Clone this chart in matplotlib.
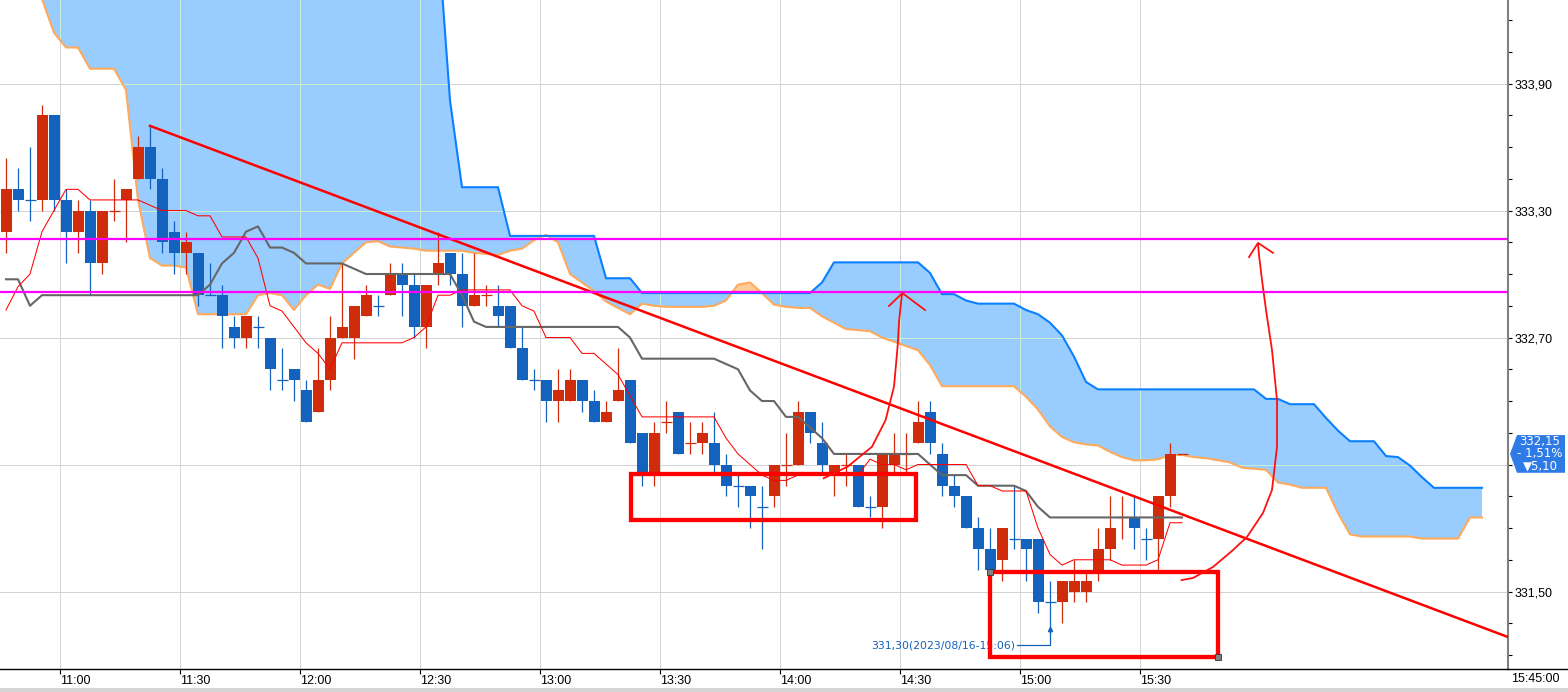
import numpy as np
import matplotlib
matplotlib.use("Agg")
import matplotlib.pyplot as plt
import matplotlib.transforms as mtransforms
from matplotlib.patches import Rectangle, Polygon
from matplotlib.lines import Line2D
from matplotlib.path import Path

plt.rcParams['font.family'] = ['Liberation Sans Narrow', 'Liberation Sans', 'DejaVu Sans']

# KOSPI200 futures, 3 minute bars, 2023/08/16
trade_date = "2023/08/16"
first_bar = 10 * 60 + 45      # 10:45 in minutes
bar_len = 3

opens = [333.20, 333.40, 333.35, 333.35, 333.75, 333.35, 333.20, 333.30, 333.05, 333.30,
         333.35, 333.45, 333.60, 333.45, 333.20, 333.10, 333.10, 332.90, 332.90, 332.75,
         332.70, 332.75, 332.70, 332.50, 332.55, 332.45, 332.35, 332.50, 332.70, 332.70,
         332.80, 332.85, 332.90, 333.00, 332.95, 332.75, 333.00, 333.10, 333.00, 332.85,
         332.90, 332.85, 332.85, 332.65, 332.50, 332.50, 332.40, 332.40, 332.50, 332.40,
         332.30, 332.40, 332.50, 332.25, 332.05, 332.30, 332.35, 332.20, 332.20, 332.20,
         332.10, 332.00, 332.00, 331.90, 331.95, 332.10, 332.10, 332.35, 332.20, 332.05,
         332.10, 332.10, 331.90, 331.90, 332.10, 332.15, 332.20, 332.35, 332.15, 332.00,
         331.95, 331.80, 331.70, 331.65, 331.75, 331.75, 331.75, 331.45, 331.45, 331.50,
         331.50, 331.60, 331.70, 331.85, 331.85, 331.75, 331.75, 331.95]
highs = [333.55, 333.50, 333.60, 333.80, 333.75, 333.40, 333.35, 333.35, 333.30, 333.45,
         333.40, 333.65, 333.70, 333.50, 333.25, 333.20, 333.10, 333.05, 332.95, 332.80,
         332.80, 332.80, 332.70, 332.65, 332.55, 332.50, 332.65, 332.80, 333.05, 332.85,
         332.95, 332.90, 333.05, 333.05, 333.00, 332.95, 333.20, 333.10, 333.10, 333.10,
         332.95, 332.95, 332.85, 332.75, 332.55, 332.50, 332.55, 332.55, 332.50, 332.45,
         332.40, 332.65, 332.50, 332.25, 332.30, 332.40, 332.35, 332.30, 332.30, 332.35,
         332.15, 332.05, 332.00, 332.00, 332.10, 332.25, 332.40, 332.35, 332.30, 332.10,
         332.15, 332.10, 331.95, 332.15, 332.25, 332.25, 332.40, 332.40, 332.20, 332.05,
         331.95, 331.85, 331.80, 331.80, 332.00, 331.75, 331.75, 331.55, 331.55, 331.65,
         331.60, 331.80, 331.95, 331.95, 331.95, 331.80, 331.95, 332.20]
lows = [333.10, 333.30, 333.25, 333.30, 333.30, 333.05, 333.10, 332.90, 333.00, 333.25,
        333.15, 333.45, 333.40, 333.10, 333.00, 333.00, 332.85, 332.90, 332.65, 332.65,
        332.65, 332.65, 332.45, 332.45, 332.40, 332.30, 332.35, 332.45, 332.70, 332.60,
        332.80, 332.80, 332.90, 332.80, 332.70, 332.65, 332.95, 332.95, 332.75, 332.85,
        332.85, 332.75, 332.65, 332.50, 332.45, 332.30, 332.30, 332.40, 332.35, 332.30,
        332.30, 332.40, 332.20, 332.00, 332.00, 332.25, 332.15, 332.15, 332.15, 332.05,
        331.95, 331.90, 331.80, 331.70, 331.90, 332.00, 332.10, 332.20, 332.05, 331.95,
        332.00, 331.90, 331.85, 331.80, 332.05, 332.05, 332.20, 332.15, 331.95, 331.90,
        331.80, 331.60, 331.60, 331.55, 331.70, 331.55, 331.40, 331.30, 331.35, 331.45,
        331.45, 331.55, 331.65, 331.75, 331.70, 331.65, 331.60, 331.90]
closes = [333.40, 333.35, 333.35, 333.75, 333.35, 333.20, 333.30, 333.05, 333.30, 333.30,
          333.40, 333.60, 333.45, 333.15, 333.10, 333.15, 332.90, 332.90, 332.80, 332.70,
          332.80, 332.75, 332.55, 332.50, 332.50, 332.30, 332.50, 332.70, 332.75, 332.85,
          332.90, 332.85, 333.00, 332.95, 332.75, 332.95, 333.05, 333.00, 332.85, 332.90,
          332.90, 332.80, 332.65, 332.50, 332.50, 332.40, 332.45, 332.50, 332.40, 332.30,
          332.35, 332.45, 332.20, 332.05, 332.25, 332.30, 332.15, 332.20, 332.25, 332.10,
          332.00, 332.00, 331.95, 331.90, 332.10, 332.10, 332.35, 332.25, 332.10, 332.10,
          332.10, 331.90, 331.90, 332.15, 332.15, 332.15, 332.30, 332.20, 332.00, 331.95,
          331.80, 331.70, 331.60, 331.80, 331.75, 331.70, 331.45, 331.45, 331.55, 331.55,
          331.55, 331.70, 331.80, 331.85, 331.80, 331.75, 331.95, 332.15]

# conversion line (thin red) and base line (gray)
tenkan = [332.83, 332.94, 333.00, 333.20, 333.30, 333.40, 333.40, 333.35, 333.35, 333.35,
          333.35, 333.35, 333.325, 333.30, 333.30, 333.30, 333.275, 333.275, 333.175, 333.175,
          333.175, 333.075, 332.85, 332.825, 332.75, 332.675, 332.625, 332.55, 332.675, 332.675,
          332.675, 332.675, 332.675, 332.675, 332.70, 332.75, 332.90, 332.90, 332.925, 332.925,
          332.925, 332.925, 332.925, 332.85, 332.825, 332.70, 332.70, 332.70, 332.625, 332.625,
          332.575, 332.525, 332.425, 332.325, 332.325, 332.325, 332.325, 332.325, 332.325, 332.325,
          332.225, 332.15, 332.10, 332.05, 332.025, 332.025, 332.05, 332.05, 332.05, 332.05,
          332.05, 332.05, 332.125, 332.10, 332.10, 332.075, 332.10, 332.10, 332.10, 332.10,
          332.10, 332.00, 332.00, 331.975, 331.975, 331.975, 331.80, 331.675, 331.625, 331.65,
          331.65, 331.65, 331.65, 331.625, 331.625, 331.625, 331.65, 331.825, 331.825]
kijun = [332.975, 332.975, 332.85, 332.90, 332.90, 332.90, 332.90, 332.90, 332.90, 332.90,
         332.90, 332.90, 332.90, 332.90, 332.90, 332.90, 332.90, 332.95, 333.05, 333.10,
         333.20, 333.225, 333.125, 333.125, 333.10, 333.05, 333.05, 333.05, 333.05, 333.025,
         333.00, 333.00, 333.00, 333.00, 333.00, 333.00, 333.00, 333.00, 332.90, 332.775,
         332.75, 332.75, 332.75, 332.75, 332.75, 332.75, 332.75, 332.75, 332.75, 332.75,
         332.75, 332.75, 332.70, 332.60, 332.60, 332.60, 332.60, 332.60, 332.60, 332.60,
         332.575, 332.55, 332.45, 332.40, 332.40, 332.325, 332.325, 332.275, 332.225, 332.15,
         332.15, 332.15, 332.15, 332.15, 332.15, 332.15, 332.15, 332.10, 332.05, 332.05,
         332.05, 332.00, 332.00, 332.00, 332.00, 331.975, 331.90, 331.85, 331.85, 331.85,
         331.85, 331.85, 331.85, 331.85, 331.85, 331.85, 331.85, 331.85, 331.85]

# leading spans (cloud), shifted ahead of the last bar
span_a = [334.65, 334.50, 334.40, 334.30, 334.14, 334.07, 334.07, 333.97, 333.97, 333.97,
          333.87, 333.35, 333.075, 333.04, 333.04, 333.03, 332.81, 332.81, 332.81, 332.81,
          332.81, 332.90, 332.91, 332.90, 332.83, 332.90, 332.95, 332.93, 333.05, 333.10,
          333.15, 333.155, 333.13, 333.125, 333.12, 333.11, 333.11, 333.11, 333.11, 333.10,
          333.095, 333.09, 333.11, 333.12, 333.16, 333.185, 333.15, 333.00, 332.96, 332.92,
          332.87, 332.84, 332.81, 332.86, 332.85, 332.845, 332.845, 332.845, 332.845, 332.85,
          332.875, 332.95, 332.96, 332.91, 332.855, 332.845, 332.84, 332.84, 332.80, 332.77,
          332.74, 332.735, 332.73, 332.70, 332.68, 332.66, 332.64, 332.57, 332.47, 332.47,
          332.47, 332.47, 332.47, 332.47, 332.47, 332.42, 332.36, 332.28, 332.23, 332.205,
          332.195, 332.19, 332.16, 332.135, 332.12, 332.12, 332.125, 332.145, 332.145, 332.135,
          332.13, 332.12, 332.11, 332.085, 332.08, 332.075, 332.015, 332.005, 331.99, 331.99,
          331.99, 331.87, 331.77, 331.76, 331.76, 331.76, 331.76, 331.76, 331.75, 331.75,
          331.75, 331.75, 331.85, 331.85]
span_b = [334.60] * 37 + [
          333.82, 333.41, 333.41, 333.41, 333.41, 333.18, 333.18, 333.18, 333.18, 333.18,
          333.18, 333.18, 333.18, 332.98, 332.98, 332.98, 332.91, 332.91, 332.91, 332.91,
          332.91, 332.91, 332.91, 332.91, 332.91, 332.91, 332.91, 332.91, 332.91, 332.91,
          332.91, 332.96, 333.055, 333.055, 333.055, 333.055, 333.055, 333.055, 333.055, 333.055,
          333.005, 332.905, 332.905, 332.875, 332.86, 332.86, 332.86, 332.86, 332.83, 332.81,
          332.77, 332.71, 332.61, 332.49, 332.455, 332.455, 332.455, 332.455, 332.455, 332.455,
          332.455, 332.455, 332.455, 332.455, 332.455, 332.455, 332.455, 332.455, 332.41, 332.41,
          332.385, 332.385, 332.385, 332.32, 332.26, 332.21, 332.21, 332.21, 332.14, 332.135,
          332.095, 332.04, 331.99, 331.99, 331.99, 331.99, 331.99]

# horizontal levels and downward trend line
levels = [333.165, 332.915]
trend_x = [682.5, 1022.0]
trend_y = [333.70, 331.285]

# hand-drawn boxes (t0, p0, t1, p1) and arrows (minutes, price)
box1 = (802.75, 331.84, 874.0, 332.053)
box2 = (892.6, 331.19, 949.4, 331.59)
arrow1_t = [850.9, 856.9, 863.0, 866.4, 868.5, 869.4, 869.8, 870.5]
arrow1_p = [332.035, 332.09, 332.184, 332.31, 332.468, 332.657, 332.783, 332.909]
head1_t = [867.25, 870.6, 876.25]
head1_p = [332.849, 332.91, 332.83]
arrow2_t = [940.4, 943.25, 948.25, 953.25, 956.75, 960.75, 963.0, 964.25, 964.25, 963.0,
            961.5, 960.5, 959.75, 959.5]
arrow2_p = [331.554, 331.564, 331.616, 331.696, 331.758, 331.871, 331.98, 332.183, 332.405,
            332.641, 332.83, 332.972, 333.09, 333.142]
head2_t = [957.25, 959.5, 963.25]
head2_p = [333.08, 333.147, 333.10]

change = -5.10
change_pct = -1.51

time_ticks = ["11:00", "11:30", "12:00", "12:30", "13:00", "13:30", "14:00", "14:30", "15:00", "15:30"]
price_ticks = [331.50, 332.10, 332.70, 333.30, 333.90]


def hm(s):
    h, m = s.split(":")
    return int(h) * 60 + int(m)


def comma(v):
    return f"{v:.2f}".replace(".", ",")


x_bar = first_bar + bar_len * np.arange(len(closes)) + bar_len / 2
x_line = first_bar + bar_len * np.arange(len(tenkan)) + bar_len / 2
x_span = first_bar + bar_len * np.arange(len(span_a)) + bar_len / 2

fig = plt.figure(figsize=(15.68, 6.92), dpi=100)
ax = fig.add_axes([0, 23 / 692, 1508 / 1568, 669 / 692])
ax.set_xlim(645, 1022)
ax.set_ylim(331.134, 334.2945)

last = closes[-1]

# cloud
sa = np.array(span_a)
sb = np.array(span_b)
cloud = ax.fill_between(x_span, sa, sb, where=sa <= sb, interpolate=True, color="#99CCFF",
                        lw=0, zorder=1)
ax.fill_between(x_span, sa, sb, where=sa > sb, interpolate=True, color="#FFCB96", lw=0, zorder=1)

# pale grid lines showing through the cloud
cloud_path = Path.make_compound_path(*cloud.get_paths())
for t in time_ticks:
    ln = ax.axvline(hm(t), color="#C8EED6", lw=0.75, zorder=1.2)
    ln.set_clip_path(cloud_path, ax.transData)
for p in price_ticks:
    ln = ax.axhline(p, color="#C8EED6", lw=0.75, zorder=1.2)
    ln.set_clip_path(cloud_path, ax.transData)

ax.plot(x_span, sa, color="#FFAA5A", lw=1.5, zorder=1.5)
ax.plot(x_span, sb, color="#0A80FF", lw=1.5, zorder=1.5)

# candles (red up, blue down)
up_col, dn_col = "#D02C0C", "#1262BE"
o = np.array(opens)
c = np.array(closes)
cols = []
prev = dn_col
for i in range(len(c)):
    if c[i] > o[i]:
        col = up_col
    elif c[i] < o[i]:
        col = dn_col
    elif i > 0 and c[i] > c[i - 1]:
        col = up_col
    elif i > 0 and c[i] < c[i - 1]:
        col = dn_col
    else:
        col = prev
    cols.append(col)
    prev = col
cols = np.array(cols)
body = np.abs(c - o)
solid = body > 1e-9
ax.vlines(x_bar, lows, highs, colors=cols, lw=0.9, zorder=3)
ax.bar(x_bar[solid], body[solid], bottom=np.minimum(o, c)[solid], width=2.75,
       color=cols[solid], lw=0, zorder=3.1)
ax.hlines(c[~solid], x_bar[~solid] - 1.375, x_bar[~solid] + 1.375, colors=cols[~solid],
          lw=0.9, zorder=3.1)
ax.hlines(last, x_bar[-1] + 1.75, x_bar[-1] + 4.5, colors=up_col, lw=0.9, zorder=3.1)

# conversion / base lines
ax.plot(x_line, kijun, color="#666666", lw=1.5, zorder=3.5)
ax.plot(x_line, tenkan, color="#FF0000", lw=0.75, zorder=3.6)

# drawn objects
ax.plot(trend_x, trend_y, color="#FF0000", lw=1.8, zorder=5)
for lv in levels:
    ax.axhline(lv, color="#FF00FF", lw=1.6, zorder=6)

# low annotation
i_low = int(np.argmin(lows))
t_low = first_bar + bar_len * i_low
low_txt = comma(lows[i_low]) + f"({trade_date}-{t_low // 60}:{t_low % 60:02d})"
ax.text(898.75, 331.247, low_txt, ha="right", va="center", fontsize=7.8, color="#1262BE",
        family=["DejaVu Sans"], zorder=6)
ax.plot([899.25, x_bar[i_low], x_bar[i_low]], [331.247, 331.247, 331.322], color="#1262BE",
        lw=0.9, zorder=6)
ax.plot([x_bar[i_low]], [331.325], marker="^", ms=3, color="#1262BE", zorder=6)

for b in (box1, box2):
    ax.add_patch(Rectangle((b[0], b[1]), b[2] - b[0], b[3] - b[1], fill=False,
                           edgecolor="#FF0000", lw=3.1, zorder=7))
ax.plot([box2[0], box2[2]], [box2[3], box2[1]], ls="none", marker="s", ms=4,
        mfc="#808080", mec="#333333", mew=0.6, zorder=8)

ax.plot(arrow1_t, arrow1_p, color="#FF1010", lw=1.3, zorder=7)
ax.plot(head1_t, head1_p, color="#FF1010", lw=1.3, zorder=7)
ax.plot(arrow2_t, arrow2_p, color="#FF1010", lw=1.3, zorder=7)
ax.plot(head2_t, head2_p, color="#FF1010", lw=1.3, zorder=7)

# axes styling
ax.set_xticks([hm(t) for t in time_ticks])
ax.set_xticklabels(time_ticks)
for lbl in ax.get_xticklabels():
    lbl.set_ha("left")
ax.yaxis.tick_right()
ax.set_yticks(price_ticks)
# the label that sits under the last-price tag is hidden, as on the chart
ax.set_yticklabels(["" if abs(v - last) < 0.1 else comma(v) for v in price_ticks])
ax.set_yticks(np.arange(331.20, 334.30, 0.15), minor=True)
ax.tick_params(axis="x", length=3.5, width=0.8, pad=1, labelsize=9, direction="out")
ax.tick_params(axis="y", which="both", length=3, width=0.8, pad=1.5, labelsize=9,
               direction="out")
ax.grid(True, color="#D3D3D3", lw=0.75)
ax.set_axisbelow(True)
for s in ("left", "top"):
    ax.spines[s].set_visible(False)
ax.spines["right"].set_color("#808080")
ax.spines["right"].set_linewidth(1.5)
ax.spines["bottom"].set_color("black")
ax.spines["bottom"].set_linewidth(1.0)
fig.add_artist(Line2D([1508 / 1568, 1.0], [23 / 692, 23 / 692], color="black", lw=1.0))
fig.text(1560 / 1568, 13 / 692, "15:45:00", ha="right", va="center", fontsize=9)
fig.add_artist(Rectangle((0, 0), 1, 4 / 692, transform=fig.transFigure, color="#D4D4D4", lw=0))

# last price tag
trans = mtransforms.blended_transform_factory(ax.transAxes, ax.transData)
hh = 0.089
tag = Polygon([(1510 / 1508, last), (1517 / 1508, last + hh), (1565 / 1508, last + hh),
               (1565 / 1508, last - hh), (1517 / 1508, last - hh)], closed=True,
              transform=trans, facecolor="#2F7BE6", edgecolor="none", clip_on=False, zorder=10)
ax.add_patch(tag)
tag_txt = f"{comma(last)}\n{'-' if change_pct < 0 else '+'} {comma(abs(change_pct))}%\n" \
          f"{'▼' if change < 0 else '▲'}{comma(abs(change))}"
ax.text(1540 / 1508, last, tag_txt, transform=trans, ha="center", va="center", color="white",
        fontsize=8.5, linespacing=0.95, family=["Liberation Sans Narrow", "DejaVu Sans"],
        clip_on=False, zorder=11)

fig.savefig("out.png", dpi=100)
